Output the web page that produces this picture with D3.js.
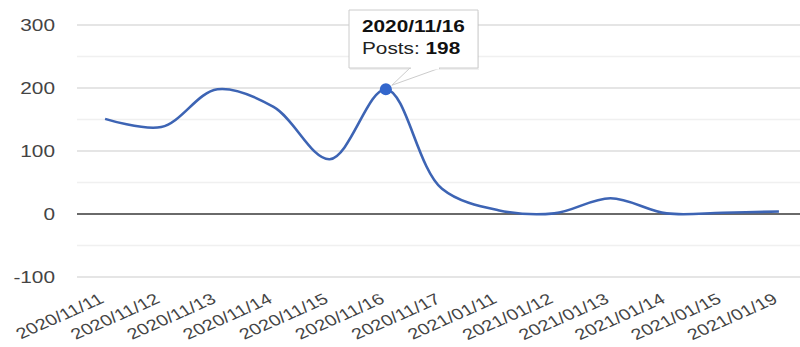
<!DOCTYPE html>
<html><head><meta charset="utf-8">
<script src="https://cdn.jsdelivr.net/npm/d3@7"></script>
<style>
html,body{margin:0;padding:0;background:#fff;overflow:hidden;}
text{font-family:"Liberation Sans",Arial,sans-serif;}
</style></head>
<body>
<svg id="chart" width="800" height="347"></svg>
<script>
const categories = ["2020/11/11","2020/11/12","2020/11/13","2020/11/14","2020/11/15","2020/11/16","2020/11/17","2021/01/11","2021/01/12","2021/01/13","2021/01/14","2021/01/15","2021/01/19"];
const posts = [151, 138, 198, 170, 87, 198, 40, 6, 1, 25, 1, 2, 4];
const yTicks = [-100, 0, 100, 200, 300];
const yMinorTicks = [-50, 50, 150, 250];
const seriesName = "Posts";
const highlightIndex = 5;

const S = 1.3;              // horizontal stretch of the reference
const W = 800 / S, H = 347;
const svg = d3.select("#chart")
  .attr("viewBox", `0 0 ${W} ${H}`)
  .attr("preserveAspectRatio", "none");

const left = 77 / S, right = 807 / S;
const x = d3.scaleBand().domain(categories).range([left, right]);
const cx = c => x(c) + x.bandwidth() / 2;
const y = d3.scaleLinear().domain([-100, 300]).range([277, 25]);

// minor gridlines
svg.append("g").selectAll("line").data(yMinorTicks).join("line")
  .attr("x1", left).attr("x2", W)
  .attr("y1", d => y(d)).attr("y2", d => y(d))
  .attr("stroke", "#f0f0f0").attr("stroke-width", 1.5)
  .attr("vector-effect", "non-scaling-stroke");
// major gridlines
svg.append("g").selectAll("line").data(yTicks.filter(d => d !== 0)).join("line")
  .attr("x1", left).attr("x2", W)
  .attr("y1", d => y(d)).attr("y2", d => y(d))
  .attr("stroke", "#dcdcdc").attr("stroke-width", 1.5)
  .attr("vector-effect", "non-scaling-stroke");

// y labels
svg.append("g").selectAll("text").data(yTicks).join("text")
  .attr("x", 55 / S).attr("y", d => y(d) + 6)
  .attr("text-anchor", "end")
  .attr("font-size", 16).attr("fill", "#444")
  .text(d => d);

// zero baseline
svg.append("line")
  .attr("x1", left).attr("x2", W)
  .attr("y1", y(0)).attr("y2", y(0))
  .attr("stroke", "#6a6a6a").attr("stroke-width", 2)
  .attr("vector-effect", "non-scaling-stroke");

// x labels
svg.append("g").selectAll("text").data(categories).join("text")
  .attr("transform", d => `translate(${cx(d)},${302}) rotate(-30)`)
  .attr("text-anchor", "end")
  .attr("font-size", 15.4).attr("fill", "#444")
  .text(d => d);

// line
const line = d3.line()
  .x((d, i) => cx(categories[i]))
  .y(d => y(d))
  .curve(d3.curveCatmullRom.alpha(0.5));
svg.append("path").datum(posts)
  .attr("d", line)
  .attr("fill", "none").attr("stroke", "#3d64b4").attr("stroke-width", 2.6)
  .attr("vector-effect", "non-scaling-stroke");

// highlight point
const hx = cx(categories[highlightIndex]), hy = y(posts[highlightIndex]);
svg.append("ellipse")
  .attr("cx", hx).attr("cy", hy)
  .attr("rx", 6 / S).attr("ry", 6)
  .attr("fill", "#3366cc");

// tooltip
const tip = svg.append("g");
const bx = 349 / S, by = 10, bw = 129 / S, bh = 58;
tip.append("rect").attr("x", bx + 1 / S).attr("y", by + 2).attr("width", bw).attr("height", bh)
  .attr("fill", "#000").attr("opacity", 0.06);
tip.append("path")
  .attr("d", `M${hx + 6 / S},${hy - 4} L${410 / S},${by + bh} L${440 / S},${by + bh} Z`)
  .attr("fill", "#fff").attr("stroke", "#ccc").attr("stroke-width", 1)
  .attr("vector-effect", "non-scaling-stroke");
tip.append("rect").attr("x", bx).attr("y", by).attr("width", bw).attr("height", bh)
  .attr("fill", "#fff").attr("stroke", "#ccc").attr("stroke-width", 1)
  .attr("vector-effect", "non-scaling-stroke");
tip.append("rect").attr("x", 411 / S).attr("y", by + bh - 1.5).attr("width", 28 / S).attr("height", 3)
  .attr("fill", "#fff");
tip.append("text").attr("x", 362 / S).attr("y", 32)
  .attr("font-size", 16).attr("font-weight", "bold").attr("fill", "#111")
  .text(categories[highlightIndex]);
const t2 = tip.append("text").attr("x", 362 / S).attr("y", 54)
  .attr("font-size", 16).attr("fill", "#222");
t2.append("tspan").text(seriesName + ": ");
t2.append("tspan").attr("font-weight", "bold").attr("fill", "#111").text(posts[highlightIndex]);
</script>
</body></html>
